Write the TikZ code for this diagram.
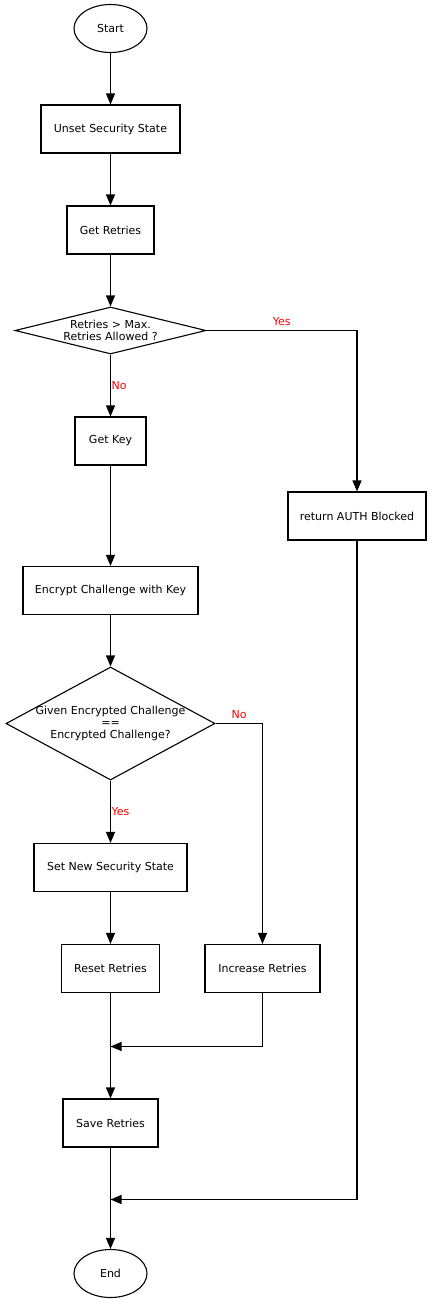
\documentclass[tikz,border=0pt]{standalone}
\usepackage{fontspec}
\setmainfont{DejaVu Sans}
\usetikzlibrary{arrows.meta,shapes.geometric}
\begin{document}
\begin{tikzpicture}[x=1pt,y=-1pt,
  every node/.style={font=\fontsize{11}{12.3}\selectfont},
  proc/.style={draw,line width=1.1pt,minimum height=48pt,inner sep=0pt,align=center},
  term/.style={draw,ellipse,line width=1.1pt,minimum width=73pt,minimum height=48pt,inner sep=0pt},
  dec/.style={draw,diamond,line width=1.1pt,inner sep=0pt,align=center},
  lab/.style={text=red},
  conn/.style={line width=1.1pt},
  arr/.style={line width=1.1pt,-{Triangle[length=11pt,width=9pt]}}]
\useasboundingbox (0,0) rectangle (432,1304);
\node[term] (start) at (110.5,28.5) {Start};
\node[proc,minimum width=139pt] (unset) at (110.5,129) {Unset Security State};
\node[proc,minimum width=87pt] (getr) at (110.5,230) {Get Retries};
\node[dec,aspect=4.06,minimum width=191pt,minimum height=47pt] (d1) at (110.5,330.5) {Retries > Max.\\Retries Allowed ?};
\node[proc,minimum width=71pt] (getk) at (110.5,441) {Get Key};
\node[proc,minimum width=138pt] (auth) at (357,516) {return AUTH Blocked};
\node[proc,minimum width=175pt] (enc) at (110.5,590.5) {Encrypt Challenge with Key};
\node[dec,aspect=1.85,inner sep=-2pt,minimum width=209pt,minimum height=113pt] (d2) at (110.5,723.5) {Given Encrypted Challenge\\==\\Encrypted Challenge?};
\node[proc,minimum width=153pt] (setn) at (110.5,867.5) {Set New Security State};
\node[proc,minimum width=98pt] (reset) at (110.5,968.5) {Reset Retries};
\node[proc,minimum width=115pt] (inc) at (262.5,968.5) {Increase Retries};
\node[proc,minimum width=95pt] (save) at (110.5,1123) {Save Retries};
\node[term] (end) at (110.5,1273.5) {End};
\coordinate (m1) at (110.5,1046.5);
\coordinate (m2) at (110.5,1199.5);
\draw[arr] (start) -- (unset);
\draw[arr] (unset) -- (getr);
\draw[arr] (getr) -- (d1);
\draw[arr] (d1) -- node[lab,pos=0.5,anchor=west,inner sep=0.5pt]{No} (getk);
\draw[arr] (d1.east) -- node[lab,above,pos=0.5,inner sep=4pt]{Yes} (auth.north |- d1.east) -- (auth);
\draw[arr] (getk) -- (enc);
\draw[arr] (enc) -- (d2);
\draw[arr] (d2) -- node[lab,pos=0.5,anchor=west,inner sep=0.5pt]{Yes} (setn);
\draw[arr] (d2.east) -- node[lab,above,pos=0.5,inner sep=4pt]{No} (inc.north |- d2.east) -- (inc);
\draw[arr] (setn) -- (reset);
\draw[conn] (reset) -- (m1);
\draw[arr] (inc) -- (inc.south |- m1) -- (m1);
\draw[arr] (m1) -- (save);
\draw[conn] (save) -- (m2);
\draw[arr] (auth) -- (auth.south |- m2) -- (m2);
\draw[arr] (m2) -- (end);
\end{tikzpicture}
\end{document}
